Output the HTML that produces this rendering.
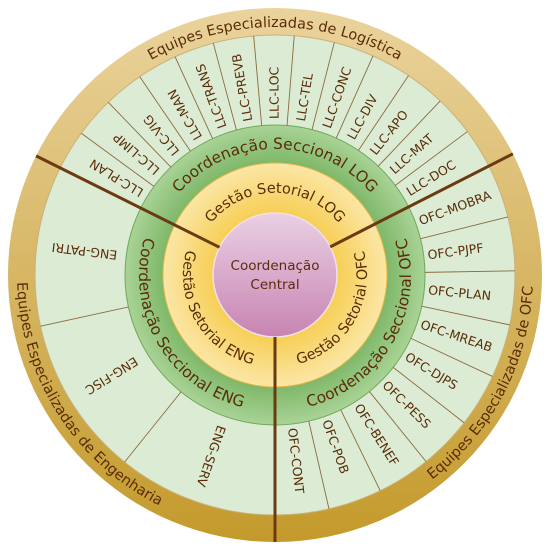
<!DOCTYPE html>
<html><head><meta charset="utf-8"><style>
html,body{margin:0;padding:0;background:#fff;}
svg{display:block;}
text{font-family:"DejaVu Sans","Liberation Sans",sans-serif;fill:#5a2c08;}
</style></head><body>
<svg width="550" height="547" viewBox="0 0 550 547" xmlns="http://www.w3.org/2000/svg">
<defs>
<linearGradient id="gold" x1="0" y1="0" x2="0" y2="1"><stop offset="0" stop-color="#ead39c"/><stop offset="1" stop-color="#c49a2c"/></linearGradient>
<radialGradient id="yel" cx="0.5" cy="0.5" r="0.5"><stop offset="0.55" stop-color="#f7cf55"/><stop offset="1" stop-color="#fbe6a6"/></radialGradient>
<radialGradient id="grn" cx="0.5" cy="0.5" r="0.5"><stop offset="0.75" stop-color="#7fb86a"/><stop offset="1" stop-color="#a9d396"/></radialGradient>
<linearGradient id="pink" x1="0" y1="0" x2="0" y2="1"><stop offset="0" stop-color="#ead0e4"/><stop offset="1" stop-color="#c884b2"/></linearGradient>
<path id="pEqL" d="M30.8 231.8 A248 248 0 0 1 519.2 231.8"/>
<path id="pEqE" d="M51.6 146 A258 258 0 0 0 297.5 532"/>
<path id="pEqO" d="M275 533 A258 258 0 0 0 486.3 127"/>
<path id="pCoL" d="M150.9 253.1 A126 126 0 0 1 399.1 253.1"/>
<path id="pCoE" d="M157.2 207 A136 136 0 0 0 275 411"/>
<path id="pCoO" d="M275 411 A136 136 0 0 0 392.8 207"/>
<path id="pGeL" d="M194.2 260.8 A82 82 0 0 1 355.8 260.8"/>
<path id="pGeE" d="M195.3 229 A92 92 0 0 0 275 367"/>
<path id="pGeO" d="M275 367 A92 92 0 0 0 354.7 229"/>
</defs>
<circle cx="275" cy="275" r="267" fill="url(#gold)"/>
<circle cx="275" cy="275" r="240" fill="#dcecd4" stroke="#c9b27a" stroke-width="1"/>
<circle cx="275" cy="275" r="150" fill="url(#grn)" stroke="#6fa85a" stroke-width="1"/>
<circle cx="275" cy="275" r="112" fill="url(#yel)" stroke="#e8b840" stroke-width="1"/>
<circle cx="275" cy="275" r="62" fill="url(#pink)" stroke="#f0e0ea" stroke-width="1.5"/>

<g stroke="#8a6a40" stroke-width="0.9">
<line x1="425" y1="275" x2="515" y2="275" transform="rotate(-143.8 275 275)"/>
<line x1="425" y1="275" x2="515" y2="275" transform="rotate(-134 275 275)"/>
<line x1="425" y1="275" x2="515" y2="275" transform="rotate(-124.3 275 275)"/>
<line x1="425" y1="275" x2="515" y2="275" transform="rotate(-114.6 275 275)"/>
<line x1="425" y1="275" x2="515" y2="275" transform="rotate(-104.9 275 275)"/>
<line x1="425" y1="275" x2="515" y2="275" transform="rotate(-95.1 275 275)"/>
<line x1="425" y1="275" x2="515" y2="275" transform="rotate(-85.4 275 275)"/>
<line x1="425" y1="275" x2="515" y2="275" transform="rotate(-75.7 275 275)"/>
<line x1="425" y1="275" x2="515" y2="275" transform="rotate(-65.9 275 275)"/>
<line x1="425" y1="275" x2="515" y2="275" transform="rotate(-56.2 275 275)"/>
<line x1="425" y1="275" x2="515" y2="275" transform="rotate(-46.5 275 275)"/>
<line x1="425" y1="275" x2="515" y2="275" transform="rotate(-36.7 275 275)"/>
<line x1="425" y1="275" x2="515" y2="275" transform="rotate(-14 275 275)"/>
<line x1="425" y1="275" x2="515" y2="275" transform="rotate(-1 275 275)"/>
<line x1="425" y1="275" x2="515" y2="275" transform="rotate(12 275 275)"/>
<line x1="425" y1="275" x2="515" y2="275" transform="rotate(25 275 275)"/>
<line x1="425" y1="275" x2="515" y2="275" transform="rotate(38 275 275)"/>
<line x1="425" y1="275" x2="515" y2="275" transform="rotate(51 275 275)"/>
<line x1="425" y1="275" x2="515" y2="275" transform="rotate(64 275 275)"/>
<line x1="425" y1="275" x2="515" y2="275" transform="rotate(77 275 275)"/>
<line x1="425" y1="275" x2="515" y2="275" transform="rotate(128.8 275 275)"/>
<line x1="425" y1="275" x2="515" y2="275" transform="rotate(167.7 275 275)"/>
</g>
<g stroke="#6b3a10" stroke-width="3">
<line x1="337" y1="275" x2="542" y2="275" transform="rotate(-153.5 275 275)"/>
<line x1="337" y1="275" x2="542" y2="275" transform="rotate(-27 275 275)"/>
<line x1="337" y1="275" x2="542" y2="275" transform="rotate(90 275 275)"/>
</g>

<g font-size="14.5">
<text><textPath href="#pEqL" startOffset="50%" text-anchor="middle">Equipes Especializadas de Logística</textPath></text>
<text><textPath href="#pEqE" startOffset="50%" text-anchor="middle">Equipes Especializadas de Engenharia</textPath></text>
<text><textPath href="#pEqO" startOffset="50%" text-anchor="middle">Equipes Especializadas de OFC</textPath></text>
</g>
<g font-size="15.5">
<text><textPath href="#pCoL" startOffset="50%" text-anchor="middle">Coordenação Seccional LOG</textPath></text>
<text><textPath href="#pCoE" startOffset="50%" text-anchor="middle">Coordenação Seccional ENG</textPath></text>
<text><textPath href="#pCoO" startOffset="50%" text-anchor="middle">Coordenação Seccional OFC</textPath></text>
</g>
<g font-size="14.5">
<text><textPath href="#pGeL" startOffset="50%" text-anchor="middle">Gestão Setorial LOG</textPath></text>
<text><textPath href="#pGeE" startOffset="50%" text-anchor="middle">Gestão Setorial ENG</textPath></text>
<text><textPath href="#pGeO" startOffset="50%" text-anchor="middle">Gestão Setorial OFC</textPath></text>
</g>

<g font-size="12.5" dominant-baseline="central">
<text x="431" y="275" transform="rotate(-148.6 275 275)">LLC-PLAN</text>
<text x="431" y="275" transform="rotate(-138.9 275 275)">LLC-LIMP</text>
<text x="431" y="275" transform="rotate(-129.2 275 275)">LLC-VIG</text>
<text x="431" y="275" transform="rotate(-119.4 275 275)">LLC-MAN</text>
<text x="431" y="275" transform="rotate(-109.7 275 275)">LLC-TRANS</text>
<text x="431" y="275" transform="rotate(-100 275 275)">LLC-PREVB</text>
<text x="431" y="275" transform="rotate(-90.3 275 275)">LLC-LOC</text>
<text x="431" y="275" transform="rotate(-80.6 275 275)">LLC-TEL</text>
<text x="431" y="275" transform="rotate(-70.8 275 275)">LLC-CONC</text>
<text x="431" y="275" transform="rotate(-61.1 275 275)">LLC-DIV</text>
<text x="431" y="275" transform="rotate(-51.4 275 275)">LLC-APO</text>
<text x="431" y="275" transform="rotate(-41.6 275 275)">LLC-MAT</text>
<text x="431" y="275" transform="rotate(-31.9 275 275)">LLC-DOC</text>
<text x="429" y="275" transform="rotate(-20.5 275 275)">OFC-MOBRA</text>
<text x="429" y="275" transform="rotate(-7.5 275 275)">OFC-PJPF</text>
<text x="429" y="275" transform="rotate(5.5 275 275)">OFC-PLAN</text>
<text x="429" y="275" transform="rotate(18.5 275 275)">OFC-MREAB</text>
<text x="429" y="275" transform="rotate(31.5 275 275)">OFC-DJPS</text>
<text x="429" y="275" transform="rotate(44.5 275 275)">OFC-PESS</text>
<text x="429" y="275" transform="rotate(57.5 275 275)">OFC-BENEF</text>
<text x="429" y="275" transform="rotate(70.5 275 275)">OFC-POB</text>
<text x="429" y="275" transform="rotate(83.5 275 275)">OFC-CONT</text>
<text x="467" y="275" text-anchor="middle" transform="rotate(109.4 275 275)">ENG-SERV</text>
<text x="467" y="275" text-anchor="middle" transform="rotate(148.3 275 275)">ENG-FISC</text>
<text x="467" y="275" text-anchor="middle" transform="rotate(187.1 275 275)">ENG-PATRI</text>
</g>

<text x="275" y="270" font-size="13.5" text-anchor="middle">Coordenação</text>
<text x="275" y="289" font-size="13.5" text-anchor="middle">Central</text>
</svg>
</body></html>
